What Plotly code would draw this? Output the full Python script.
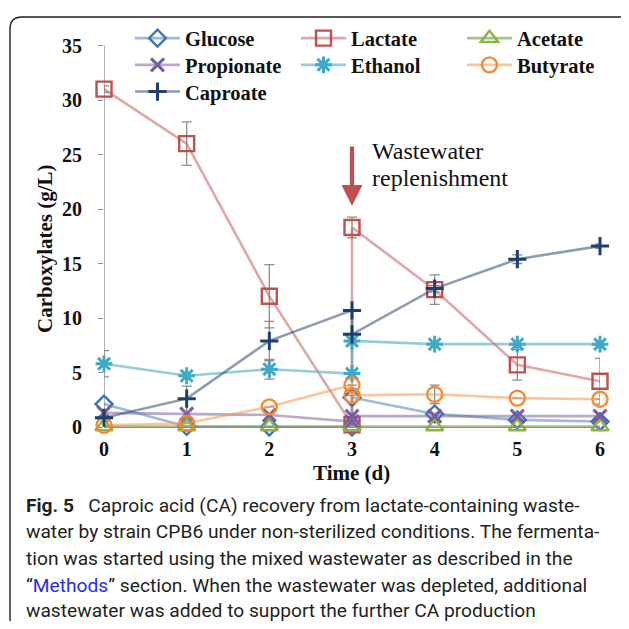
import plotly.graph_objects as go

# ---------------- data ----------------
time_d = [0, 1, 2, 3, 3, 4, 5, 6]
x_ticks = [0, 1, 2, 3, 4, 5, 6]
x_tick_labels = ["0", "1", "2", "3", "4", "5", "6"]
y_ticks = [0, 5, 10, 15, 20, 25, 30, 35]

glucose = [2.1, 0.05, 0.0, 0.0, 2.7, 1.2, 0.65, 0.5]
lactate = [31.0, 26.0, 12.0, 0.2, 18.3, 12.6, 5.7, 4.2]
acetate = [0.05, 0.05, 0.05, 0.05, 0.05, 0.05, 0.05, 0.05]
propionate = [1.3, 1.2, 1.1, 0.5, 1.0, 1.0, 1.0, 1.0]
ethanol = [5.8, 4.7, 5.3, 4.9, 7.9, 7.6, 7.6, 7.6]
butyrate = [0.15, 0.35, 1.85, 3.85, 2.9, 3.0, 2.65, 2.55]
caproate = [0.85, 2.6, 7.9, 10.7, 8.5, 12.7, 15.4, 16.6]

lactate_err = [0.3, 2.0, 2.9, 0.0, 0.95, 1.35, 1.4, 2.1]
ethanol_err = [1.2, 0.3, 0.9, 0.0, 0.3, 0.0, 0.0, 0.0]
butyrate_err = [0.0, 0.0, 0.0, 0.0, 0.0, 0.85, 0.0, 0.0]
caproate_err = [0.3, 1.15, 1.8, 0.0, 0.0, 0.3, 0.4, 0.2]

# name, values, errors, symbol, marker colour, line colour, size, legend row, legend entry width
series = [
    ("Glucose", glucose, None, "diamond-open", "#3F72B8", "rgba(79,129,189,0.55)", 13, "legend", 106),
    ("Lactate", lactate, lactate_err, "square-open", "#C0504D", "rgba(192,80,77,0.5)", 15, "legend", 106),
    ("Acetate", acetate, None, "triangle-up-open", "#8DB443", "rgba(120,160,80,0.65)", 15, "legend", 80),
    ("Propionate", propionate, None, "x-thin", "#7A5CA0", "rgba(128,100,162,0.55)", 13, "legend2", 106),
    ("Ethanol", ethanol, ethanol_err, "asterisk", "#3FAAC6", "rgba(75,172,198,0.6)", 14, "legend2", 106),
    ("Butyrate", butyrate, butyrate_err, "circle-open", "#F7892E", "rgba(247,150,70,0.55)", 15, "legend2", 80),
    ("Caproate", caproate, caproate_err, "cross-thin", "#1F3F6E", "rgba(44,77,117,0.55)", 13, "legend3", 106),
]

# ---------------- geometry (reference pixels; page has an 8px body margin) ----------------
OFF = 8
W, H = 629 - OFF, 629 - OFF
X0_REF, X6_REF, Y0_REF, Y35_REF = 104, 600, 427, 45.5
UNIT = (Y0_REF - Y35_REF) / 35.0
YMAX = 37.8
YTOP_REF = Y0_REF - YMAX * UNIT
ML = X0_REF - OFF
MR = W - (X6_REF - OFF)
MT = YTOP_REF - OFF
MB = H - (Y0_REF - OFF)
PW, PH = W - ML - MR, H - MT - MB


def px(xr):
    return (xr - OFF - ML) / PW


def py(yr):
    return (Y0_REF - yr) / PH


SERIF = "Liberation Serif, Times New Roman, serif"
SANS = "Roboto, Lato, sans-serif"

fig = go.Figure()
for name, vals, err, sym, mcol, lcol, size, lg, lw in series:
    thin = sym in ("x-thin", "cross-thin", "asterisk")
    tr = go.Scatter(
        x=time_d, y=vals, name=name, mode="lines+markers", legend=lg, legendwidth=lw,
        line=dict(color=lcol, width=2.6),
        marker=dict(symbol=sym, size=size, color=mcol,
                    line=dict(color=mcol, width=3 if thin else 2.4)),
        cliponaxis=False,
    )
    if err is not None:
        tr.error_y = dict(type="data", array=err, visible=True,
                          color="#8C8C8C", thickness=1.3, width=5)
    fig.add_trace(tr)

annotations = []
# arrow
annotations.append(dict(x=3, y=(Y0_REF - 206) / UNIT, xref="x", yref="y", ax=0, ay=-61,
                        text="", showarrow=True,
                        arrowhead=2, arrowsize=1, arrowwidth=4.2, arrowcolor="#C0504D"))
annotations.append(dict(x=px(370), y=py(151), xref="paper", yref="paper",
                        xanchor="left", yanchor="middle", showarrow=False,
                        text="Wastewater", font=dict(family=SERIF, size=24, color="#111")))
annotations.append(dict(x=px(370), y=py(178), xref="paper", yref="paper",
                        xanchor="left", yanchor="middle", showarrow=False,
                        text="replenishment", font=dict(family=SERIF, size=24, color="#111")))
# axis titles
annotations.append(dict(x=px(351), y=py(473), xref="paper", yref="paper",
                        xanchor="center", yanchor="middle",
                        showarrow=False, text="Time (d)",
                        font=dict(family=SERIF, size=21, color="#111", weight="bold")))
annotations.append(dict(x=px(45), y=py(249), xref="paper", yref="paper",
                        xanchor="center", yanchor="middle",
                        showarrow=False, text="Carboxylates (g/L)", textangle=-90,
                        font=dict(family=SERIF, size=21, color="#111", weight="bold")))
# caption
cap_lines = [
    "<b>Fig.\u00a05</b>\u00a0\u00a0\u00a0Caproic acid (CA) recovery from lactate-containing waste-",
    "water by strain CPB6 under non-sterilized conditions. The fermenta-",
    "tion was started using the mixed wastewater as described in the",
    "\u201c<span style='color:#2A2AF0'>Methods</span>\u201d section. When the wastewater was depleted, additional",
    "wastewater was added to support the further CA production",
]
cap_baselines = [511.7, 538.0, 565.0, 591.7, 617.0]
for line, bl in zip(cap_lines, cap_baselines):
    annotations.append(dict(x=px(24), y=py(bl - 6.5), xref="paper", yref="paper",
                            xanchor="left", yanchor="middle", showarrow=False, text=line,
                            font=dict(family=SANS, size=19.2, color="#231F20")))

shapes = [
    # figure frame (rounded top-left corner)
    dict(type="path", xref="paper", yref="paper",
         path=(f"M {px(10)},{py(621)} L {px(10)},{py(29)} "
               f"Q {px(10)},{py(17)} {px(22)},{py(17)} L {px(650)},{py(17)}"),
         line=dict(color="#222", width=1.4)),
    # y axis line from 0 to 35
    dict(type="line", xref="x", yref="y", x0=0, x1=0, y0=0, y1=y_ticks[-1],
         line=dict(color="#8C8C8C", width=1.3), layer="below"),
]

legend_common = dict(orientation="h", xanchor="left", yanchor="middle",
                     itemwidth=45, bgcolor="rgba(0,0,0,0)", traceorder="normal",
                     font=dict(family=SERIF, size=20.5, color="#111", weight="bold"))

fig.update_layout(
    width=W, height=H,
    margin=dict(l=ML, r=MR, t=MT, b=MB),
    paper_bgcolor="white", plot_bgcolor="white",
    showlegend=True,
    legend=dict(x=px(130), y=py(38.3), **legend_common),
    legend2=dict(x=px(130), y=py(65), **legend_common),
    legend3=dict(x=px(130), y=py(91.7), **legend_common),
    annotations=annotations,
    shapes=shapes,
)
fig.update_xaxes(range=[0, 6], tickvals=x_ticks, ticktext=x_tick_labels,
                 showgrid=False, zeroline=False, showline=True, linecolor="#8C8C8C",
                 linewidth=1.3, ticks="", ticklabelstandoff=4,
                 tickfont=dict(family=SERIF, size=20, color="#111", weight="bold"))
fig.update_yaxes(range=[0, YMAX], tickvals=y_ticks, showgrid=False, zeroline=False,
                 showline=False, ticks="outside", ticklen=5,
                 tickcolor="#8C8C8C", ticklabelstandoff=12,
                 tickfont=dict(family=SERIF, size=20, color="#111", weight="bold"))

fig.write_html("out.html")
